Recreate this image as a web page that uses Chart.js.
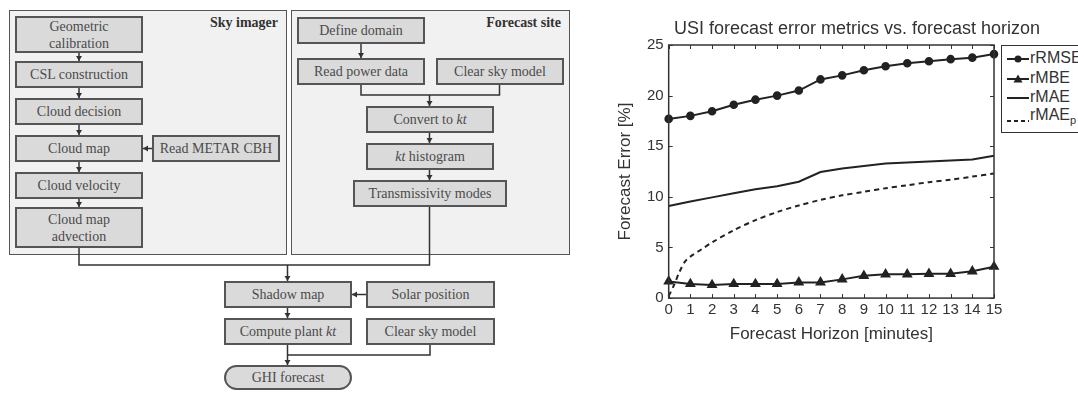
<!DOCTYPE html>
<html>
<head>
<meta charset="utf-8">
<script src="https://cdn.jsdelivr.net/npm/chart.js@4.4.0/dist/chart.umd.min.js"></script>
<style>
  html, body { margin: 0; padding: 0; width: 1078px; height: 393px; overflow: hidden; background: #fff; }
  .flow { position: absolute; left: 0; top: 0; width: 600px; height: 393px; font-family: "Liberation Serif", serif; color: #4a4a4a; }
  .panel { position: absolute; box-sizing: border-box; background: #f1f1f1; border: 1.5px solid #555; }
  .panel .head { position: absolute; right: 8px; top: 4px; font-weight: bold; font-size: 14px; color: #333; }
  .box { position: absolute; box-sizing: border-box; background: #dadada; border: 2px solid #555;
         display: flex; align-items: center; justify-content: center; text-align: center; font-size: 14px; line-height: 17px; }
  .pill { border-radius: 14px; }
  #wires { position: absolute; left: 0; top: 0; }
  .chartBox { position: absolute; left: 600px; top: 0; width: 478px; height: 393px; }
  .title { position: absolute; left: 857px; top: 17px; transform: translateX(-50%); white-space: nowrap;
           font-family: "Liberation Sans", Arial, sans-serif; font-size: 18px; line-height: 22px; color: #333; }
  .legend { position: absolute; left: 1001px; top: 45px; width: 120px; height: 88px; box-sizing: border-box;
            border: 1px solid #333; background: #fff; font-family: "Liberation Sans", Arial, sans-serif; font-size: 16px; color: #333; }
  .legend .row { position: absolute; left: 4px; height: 20px; line-height: 20px; white-space: nowrap; }
  .legend svg { vertical-align: middle; }
  .legend sub { font-size: 11px; }
</style>
</head>
<body>

<div class="flow">
  <div class="panel" style="left:9px; top:10px; width:278px; height:245px;"><div class="head">Sky imager</div></div>
  <div class="panel" style="left:291px; top:10px; width:279px; height:245px;"><div class="head">Forecast site</div></div>
  <svg id="wires" width="600" height="393"></svg>

  <div class="box" style="left:15px; top:16px; width:128px; height:37px;">Geometric<br>calibration</div>
  <div class="box" style="left:15px; top:61px; width:128px; height:27px;">CSL construction</div>
  <div class="box" style="left:15px; top:98px; width:128px; height:27px;">Cloud decision</div>
  <div class="box" style="left:15px; top:135px; width:128px; height:27px;">Cloud map</div>
  <div class="box" style="left:152px; top:135px; width:128px; height:27px;">Read METAR CBH</div>
  <div class="box" style="left:15px; top:172px; width:128px; height:27px;">Cloud velocity</div>
  <div class="box" style="left:15px; top:207px; width:128px; height:41px;">Cloud map<br>advection</div>

  <div class="box" style="left:297px; top:17px; width:128px; height:27px;">Define domain</div>
  <div class="box" style="left:297px; top:58px; width:128px; height:27px;">Read power data</div>
  <div class="box" style="left:436px; top:58px; width:128px; height:27px;">Clear sky model</div>
  <div class="box" style="left:366px; top:106px; width:128px; height:27px;">Convert to&nbsp;<i>kt</i></div>
  <div class="box" style="left:366px; top:143px; width:128px; height:27px;"><i>kt</i>&nbsp;histogram</div>
  <div class="box" style="left:353px; top:180px; width:154px; height:27px;">Transmissivity modes</div>

  <div class="box" style="left:224px; top:281px; width:128px; height:27px;">Shadow map</div>
  <div class="box" style="left:366px; top:281px; width:129px; height:27px;">Solar position</div>
  <div class="box" style="left:224px; top:318px; width:128px; height:27px;">Compute plant&nbsp;<i>kt</i></div>
  <div class="box" style="left:366px; top:318px; width:129px; height:27px;">Clear sky model</div>
  <div class="box pill" style="left:224px; top:365px; width:128px; height:25px;">GHI forecast</div>
</div>

<div class="chartBox"><canvas id="errChart"></canvas></div>
<div class="title">USI forecast error metrics vs. forecast horizon</div>
<div class="legend">
  <div class="row" style="top:2px;"><svg width="24" height="10"><line x1="1" y1="5" x2="23" y2="5" stroke="#222" stroke-width="2"/><circle cx="12" cy="5" r="3.5" fill="#222"/></svg>rRMSE</div>
  <div class="row" style="top:22px;"><svg width="24" height="10"><line x1="1" y1="5" x2="23" y2="5" stroke="#222" stroke-width="2"/><polygon points="12,0.5 16.5,8.5 7.5,8.5" fill="#222"/></svg>rMBE</div>
  <div class="row" style="top:41px;"><svg width="24" height="10"><line x1="1" y1="5" x2="23" y2="5" stroke="#222" stroke-width="2"/></svg>rMAE</div>
  <div class="row" style="top:59px;"><svg width="24" height="16"><line x1="1" y1="13" x2="23" y2="13" stroke="#222" stroke-width="2" stroke-dasharray="4,3"/></svg>rMAE<sub>p</sub></div>
</div>

<script>
// forecast horizon [minutes]
const horizon = [0, 1, 2, 3, 4, 5, 6, 7, 8, 9, 10, 11, 12, 13, 14, 15];
const rRMSE = [17.7, 18.0, 18.45, 19.1, 19.6, 20.0, 20.5, 21.6, 22.0, 22.5, 22.9, 23.2, 23.4, 23.6, 23.75, 24.1];
const rMBE  = [1.65, 1.4, 1.3, 1.4, 1.4, 1.4, 1.55, 1.55, 1.85, 2.2, 2.35, 2.35, 2.4, 2.4, 2.65, 3.1];
const rMAE  = [9.1, 9.55, 9.95, 10.35, 10.75, 11.05, 11.5, 12.45, 12.8, 13.05, 13.3, 13.4, 13.5, 13.6, 13.7, 14.05];
// persistence rMAE is sampled finer near zero
const rMAEpHorizon = [0, 0.25, 0.5, 0.75, 1, 1.5, 2, 3, 4, 5, 6, 7, 8, 9, 10, 11, 12, 13, 14, 15];
const rMAEp = [0.2, 1.3, 2.6, 3.6, 4.1, 4.8, 5.5, 6.7, 7.7, 8.5, 9.15, 9.7, 10.15, 10.5, 10.85, 11.15, 11.45, 11.7, 12.0, 12.3];

const xTicks = horizon;
const yTicks = [0, 5, 10, 15, 20, 25];

// flowchart connectors
const wires = [
  [[79, 53], [79, 61]], [[79, 88], [79, 98]], [[79, 125], [79, 135]], [[79, 162], [79, 172]], [[79, 199], [79, 207]],
  [[152, 148.5], [143, 148.5]],
  [[361, 44], [361, 58]],
  [[429.5, 95], [429.5, 106]], [[429.5, 133], [429.5, 143]], [[429.5, 170], [429.5, 180]],
  [[287.5, 265], [287.5, 281]],
  [[366, 294.5], [352, 294.5]],
  [[287.5, 308], [287.5, 318]],
  [[287.5, 345], [287.5, 365]]
];
const plain = [
  [[361, 85], [361, 95], [499.5, 95], [499.5, 85]],
  [[79, 248], [79, 265], [429.5, 265], [429.5, 207]],
  [[430, 345], [430, 355], [287.5, 355]]
];

const svg = document.getElementById('wires');
let s = '';
plain.forEach(p => {
  s += `<polyline points="${p.map(q => q.join(',')).join(' ')}" fill="none" stroke="#333" stroke-width="1.5"/>`;
});
wires.forEach(([a, b]) => {
  s += `<line x1="${a[0]}" y1="${a[1]}" x2="${b[0]}" y2="${b[1]}" stroke="#333" stroke-width="1.5"/>`;
  const dx = Math.sign(b[0] - a[0]), dy = Math.sign(b[1] - a[1]);
  const bx = b[0] - dx * 5, by = b[1] - dy * 5;
  const px = dy * 3, py = dx * 3;
  s += `<polygon points="${b[0]},${b[1]} ${bx + px},${by + py} ${bx - px},${by - py}" fill="#333"/>`;
});
svg.innerHTML = s;

// inward tick marks and box, MATLAB style
const boxTicks = {
  id: 'boxTicks',
  afterDraw(chart) {
    const { ctx, chartArea: a, scales: { x, y } } = chart;
    ctx.save();
    ctx.strokeStyle = '#333';
    ctx.lineWidth = 1;
    ctx.beginPath();
    xTicks.forEach(v => {
      const px = Math.round(x.getPixelForValue(v)) + 0.5;
      ctx.moveTo(px, a.bottom); ctx.lineTo(px, a.bottom - 4);
      ctx.moveTo(px, a.top); ctx.lineTo(px, a.top + 4);
    });
    yTicks.forEach(v => {
      const py = Math.round(y.getPixelForValue(v)) + 0.5;
      ctx.moveTo(a.left, py); ctx.lineTo(a.left + 4, py);
      ctx.moveTo(a.right, py); ctx.lineTo(a.right - 4, py);
    });
    ctx.stroke();
    ctx.lineWidth = 1.5;
    ctx.strokeRect(a.left, a.top, a.right - a.left, a.bottom - a.top);
    ctx.restore();
  }
};

const ink = '#222';
const pts = (xs, ys) => xs.map((v, i) => ({ x: v, y: ys[i] }));

new Chart(document.getElementById('errChart'), {
  type: 'line',
  data: {
    datasets: [
      { label: 'rRMSE', data: pts(horizon, rRMSE), borderColor: ink, backgroundColor: ink, borderWidth: 2,
        pointStyle: 'circle', pointRadius: 3.3, clip: 8 },
      { label: 'rMBE', data: pts(horizon, rMBE), borderColor: ink, backgroundColor: ink, borderWidth: 2,
        pointStyle: 'triangle', pointRadius: 4.3, clip: 8 },
      { label: 'rMAE', data: pts(horizon, rMAE), borderColor: ink, borderWidth: 2, pointRadius: 0, clip: 8 },
      { label: 'rMAEp', data: pts(rMAEpHorizon, rMAEp), borderColor: ink, borderWidth: 2, borderDash: [5, 4],
        pointRadius: 0, tension: 0.3, clip: 8 }
    ]
  },
  options: {
    responsive: true,
    maintainAspectRatio: false,
    animation: false,
    layout: { padding: { left: 0, right: 84, top: 45, bottom: 48 } },
    font: { family: '"Liberation Sans", Arial, sans-serif' },
    plugins: { legend: { display: false }, tooltip: { enabled: false } },
    scales: {
      x: {
        type: 'linear', min: 0, max: 15,
        afterBuildTicks: sc => { sc.ticks = xTicks.map(v => ({ value: v })); },
        grid: { display: false, drawTicks: false },
        border: { display: false },
        ticks: { autoSkip: false, maxRotation: 0, padding: 3, color: '#333', font: { size: 15 } },
        title: { display: true, text: 'Forecast Horizon [minutes]', color: '#333', font: { size: 17 }, padding: { top: 2.5, bottom: 0 } }
      },
      y: {
        min: 0, max: 25,
        afterBuildTicks: sc => { sc.ticks = yTicks.map(v => ({ value: v })); },
        grid: { display: false, drawTicks: false },
        border: { display: false },
        ticks: { padding: 5, color: '#333', font: { size: 15 } },
        title: { display: true, text: 'Forecast Error [%]', color: '#333', font: { size: 17 }, padding: { top: 15.3, bottom: 6.3 } }
      }
    }
  },
  plugins: [boxTicks]
});
</script>
</body>
</html>
